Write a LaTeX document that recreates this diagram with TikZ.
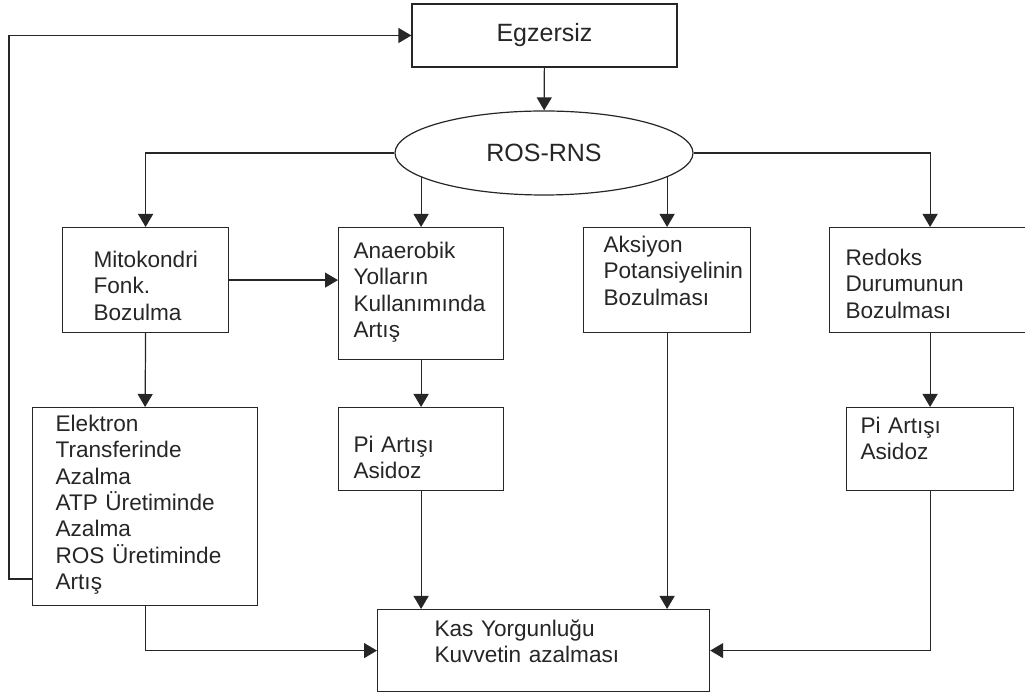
\documentclass[tikz,border=0pt]{standalone}
\usepackage{fontspec}
\setmainfont{Liberation Sans}
\usetikzlibrary{shapes.geometric,arrows.meta}

\tikzset{
  panel/.style n args={4}{draw, anchor=north west, align=left, inner ysep=0pt,
    inner xsep={#2*0.5pt}, text width={(#1-2*#2)*0.5pt},
    text height={#3*0.5pt}, text depth={#4*0.5pt}},
  arr/.style={-{Triangle[length=6.5pt,width=7.5pt]}},
  bigtext/.style={font=\fontsize{12.5pt}{15pt}\selectfont},
}

\begin{document}
\begin{tikzpicture}[x=0.5pt, y=-0.5pt, line width=0.6pt, black!85,
    font=\fontsize{11.3pt}{13.15pt}\selectfont]

    \useasboundingbox (0,0) rectangle (1025,694);

    \draw(544.5,35.5) node[draw, minimum width=132.5pt, minimum height=31.5pt, bigtext] (egz) {Egzersiz};
    \draw(544,153) node[draw, ellipse, minimum width=149pt, minimum height=42pt, inner sep=0pt, bigtext] (ros) {ROS-RNS};

    \draw(62,227) node[panel={166}{31}{40}{65}] (mito) {Mitokondri\\Fonk.\\Bozulma};
    \draw(338,227) node[panel={165}{15}{31}{101}] (anae) {Anaerobik\\Yolların\\Kullanımında\\Artış};
    \draw(583,227) node[panel={167}{20}{25}{80}] (aks) {Aksiyon\\Potansiyelinin\\Bozulması};
    \draw(829,227) node[panel={201}{16}{38}{67}] (red) {Redoks\\Durumunun\\Bozulması};

    \draw(32,407) node[panel={225}{23}{24}{174}] (elek) {Elektron\\Transferinde\\Azalma\\ATP Üretiminde\\Azalma\\ROS Üretiminde\\Artış};
    \draw(338,407) node[panel={165}{15}{45}{38}] (pimid) {Pi Artışı\\Asidoz};
    \draw(846,407) node[panel={167}{14}{26}{57}] (piright) {Pi Artışı\\Asidoz};

    \draw(377,609) node[panel={332}{57}{27}{55}] (kas) {Kas Yorgunluğu\\Kuvvetin azalması};

    \coordinate (fb) at (9,579);

    \draw[arr] (egz) -- (ros);
    \draw[arr] (ros.west) -| (mito.north);
    \draw[arr] (anae.north |- ros.191) -- (anae.north);
    \draw[arr] (aks.north |- ros.-11) -- (aks.north);
    \draw[arr] (ros.east) -| (red.north);

    \draw[arr] (mito.east) -- (mito.east -| anae.west);
    \draw[arr] (mito.south) -- (elek.north);
    \draw[arr] (anae.south) -- (pimid.north);
    \draw[arr] (red.south) -- (piright.north);

    \draw[arr] (pimid.south) -- (pimid.south |- kas.north);
    \draw[arr] (aks.south) -- (aks.south |- kas.north);
    \draw[arr] (elek.south) |- (kas.west);
    \draw[arr] (piright.south) |- (kas.east);

    \draw[arr] (elek.west |- fb) -- (fb) |- (egz.west);

\end{tikzpicture}
\end{document}
